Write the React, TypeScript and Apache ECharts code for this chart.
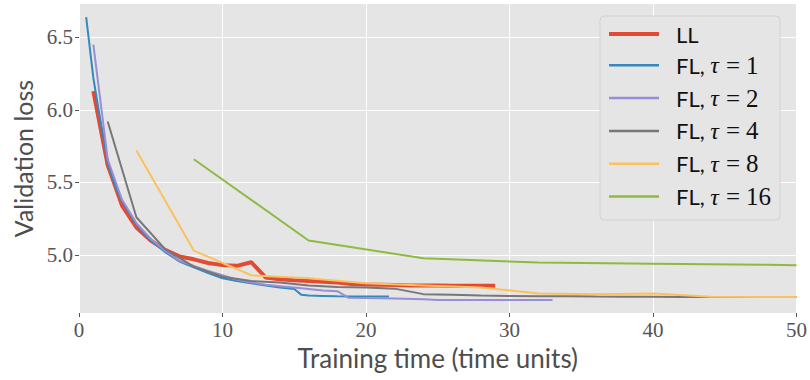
import React, { useEffect, useRef } from "react";
import * as echarts from "echarts";

const seriesNames = ["LL", "FL, τ = 1", "FL, τ = 2", "FL, τ = 4", "FL, τ = 8", "FL, τ = 16"];
const seriesColors = ["#E24A33", "#348ABD", "#988ED5", "#777777", "#FBC15E", "#8EBA42"];

const llData: [number, number][] = [
  [1, 6.13], [2, 5.62], [3, 5.34], [4, 5.19], [5, 5.1], [6, 5.035], [7, 4.99], [8, 4.97],
  [9, 4.945], [10, 4.93], [11, 4.925], [12, 4.95], [13, 4.845], [14, 4.833], [15, 4.825],
  [16, 4.82], [17, 4.815], [18, 4.81], [19, 4.8], [20, 4.797], [21, 4.795], [22, 4.793],
  [23, 4.79], [24, 4.79], [25, 4.79], [26, 4.788], [27, 4.788], [28, 4.787], [29, 4.787],
];
const fl1Data: [number, number][] = [
  [0.5, 6.64], [1, 6.22], [1.5, 5.92], [2, 5.64], [2.5, 5.48], [3, 5.37], [4, 5.21], [5, 5.1],
  [6, 5.02], [7, 4.955], [8, 4.915], [9, 4.875], [10, 4.84], [11, 4.82], [12, 4.805],
  [13, 4.79], [14, 4.775], [15, 4.765], [15.5, 4.725], [16, 4.72], [17, 4.718], [18, 4.715],
  [19, 4.713], [20, 4.713], [21, 4.713], [21.6, 4.713],
];
const fl2Data: [number, number][] = [
  [1, 6.45], [2, 5.66], [3, 5.38], [4, 5.22], [5, 5.11], [6, 5.03], [7, 4.96], [8, 4.925],
  [9, 4.89], [10, 4.86], [11, 4.83], [12, 4.81], [13, 4.795], [14, 4.785], [15, 4.775],
  [16, 4.765], [17, 4.755], [18, 4.75], [18.8, 4.705], [20, 4.703], [22, 4.7], [24, 4.695],
  [25, 4.69], [27, 4.69], [29, 4.69], [31, 4.69], [33, 4.69],
];
const fl4Data: [number, number][] = [
  [2, 5.92], [4, 5.26], [6, 5.04], [8, 4.92], [10, 4.85], [12, 4.82], [14, 4.81], [16, 4.79],
  [18, 4.78], [20, 4.775], [22, 4.768], [24, 4.73], [26, 4.725], [28, 4.72], [30, 4.718],
  [32, 4.716], [34, 4.715], [36, 4.713], [38, 4.712], [40, 4.712], [42, 4.711], [44, 4.71],
  [46, 4.71], [48, 4.71], [50, 4.71],
];
const fl8Data: [number, number][] = [
  [4, 5.72], [8, 5.03], [12, 4.86], [16, 4.84], [20, 4.805], [24, 4.79], [28, 4.775],
  [32, 4.735], [36, 4.73], [40, 4.735], [44, 4.712], [48, 4.71], [50, 4.71],
];
const fl16Data: [number, number][] = [
  [8, 5.66], [16, 5.1], [24, 4.977], [32, 4.948], [40, 4.94], [48, 4.932], [50, 4.93],
];

const allData = [llData, fl1Data, fl2Data, fl4Data, fl8Data, fl16Data];
const yTickValues = [5.0, 5.5, 6.0, 6.5];

const serif = "'Liberation Serif', 'DejaVu Serif', serif";
const sans = "Lato, 'Open Sans', sans-serif";

export default function App() {
  const ref = useRef<HTMLDivElement>(null);
  useEffect(() => {
    document.body.style.margin = "0";
    if (!ref.current) return;
    const chart = echarts.init(ref.current, undefined, { renderer: "svg" });
    const lineSeries = seriesNames.map((name, i) => ({
      name,
      type: "line",
      data: allData[i],
      symbol: "none",
      showSymbol: false,
      z: 2,
      lineStyle: { color: seriesColors[i], width: i === 0 ? 4 : 2 },
      itemStyle: { color: seriesColors[i] },
      clip: true,
    }));
    chart.setOption({
      animation: false,
      grid: {
        left: 79,
        right: 13,
        top: 4,
        bottom: 67,
        show: true,
        backgroundColor: "#E5E5E5",
        borderWidth: 0,
      },
      xAxis: {
        type: "value",
        min: 0,
        max: 50,
        interval: 10,
        name: "Training time (time units)",
        nameLocation: "middle",
        nameGap: 29,
        nameTextStyle: { fontFamily: sans, fontSize: 26, color: "#4d4d4d" },
        axisLine: { show: false },
        axisTick: { show: true, length: 4, lineStyle: { color: "#555" } },
        axisLabel: { fontFamily: serif, fontSize: 21, color: "#555", margin: 6 },
        splitLine: { show: true, lineStyle: { color: "#ffffff", width: 1 } },
      },
      yAxis: {
        type: "value",
        min: 4.6,
        max: 6.73,
        name: "Validation loss",
        nameLocation: "middle",
        nameGap: 40,
        nameTextStyle: { fontFamily: sans, fontSize: 25, color: "#4d4d4d" },
        axisLine: { show: false },
        axisTick: { show: true, length: 4, customValues: yTickValues, lineStyle: { color: "#555" } },
        axisLabel: {
          fontFamily: serif,
          fontSize: 21,
          color: "#555",
          margin: 6,
          customValues: yTickValues,
          formatter: (v: number) => v.toFixed(1),
        },
        splitLine: { show: false },
      },
      legend: {
        data: seriesNames.map((n, i) => ({
          name: n,
          lineStyle: { width: i === 0 ? 4 : 2.5, color: seriesColors[i] },
        })),
        orient: "vertical",
        left: 600,
        top: 16,
        z: 10,
        padding: [7, 9, 11, 7],
        itemWidth: 50,
        itemHeight: 14,
        itemGap: 7.8,
        itemStyle: { opacity: 0 },
        backgroundColor: "#E5E5E5",
        borderColor: "#d2d2d2",
        borderWidth: 1,
        borderRadius: 4,
        textStyle: {
          fontFamily: sans,
          fontSize: 22,
          lineHeight: 20,
          color: "#111",
          padding: [0, 0, 0, 12],
          rich: {
            s: { fontFamily: sans, fontSize: 22, lineHeight: 20, color: "#111" },
            m: { fontFamily: serif, fontStyle: "italic", fontSize: 24, lineHeight: 20, color: "#111" },
            q: { fontFamily: serif, fontSize: 25, lineHeight: 20, color: "#111", padding: [0, 6, 0, 7] },
            n: { fontFamily: serif, fontSize: 25, lineHeight: 20, color: "#111" },
          },
        },
        formatter: (name: string) => {
          if (name === "LL") return "{s|LL}";
          const tau = name.split("= ")[1];
          return `{s|FL, }{m|τ}{q|=}{n|${tau}}`;
        },
      },
      series: [
        {
          name: "grid",
          type: "line",
          data: [],
          z: 1,
          silent: true,
          markLine: {
            silent: true,
            z: 1,
            symbol: ["none", "none"],
            label: { show: false },
            lineStyle: { color: "#ffffff", width: 1, type: "solid" },
            emphasis: { disabled: true },
            data: yTickValues.map((v) => ({ yAxis: v })),
          },
        },
        ...lineSeries,
      ],
    });
    return () => chart.dispose();
  }, []);
  return <div ref={ref} style={{ width: 810, height: 380 }} />;
}
